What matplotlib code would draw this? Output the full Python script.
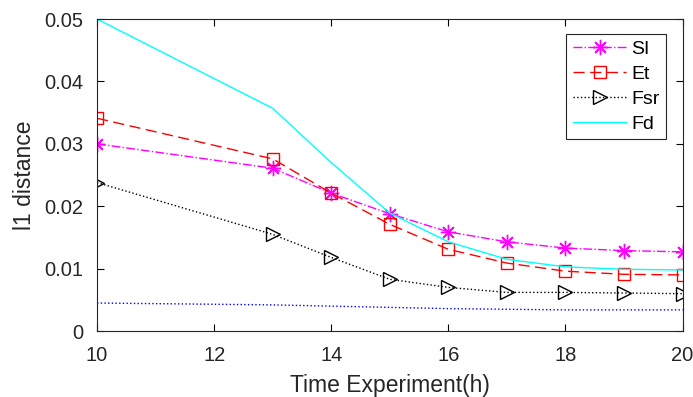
import matplotlib
matplotlib.use("Agg")
import matplotlib.pyplot as plt

# data
hours = [10, 13, 14, 15, 16, 17, 18, 19, 20]
si = [0.0300, 0.0261, 0.0221, 0.0188, 0.0159, 0.0143, 0.0133, 0.0129, 0.0127]
et = [0.0341, 0.0276, 0.0221, 0.0171, 0.0131, 0.0109, 0.0096, 0.0091, 0.0090]
fsr = [0.0238, 0.0155, 0.0118, 0.0083, 0.0070, 0.0062, 0.0062, 0.0061, 0.0060]
fd = [0.0500, 0.0357, 0.0270, 0.0189, 0.0143, 0.0115, 0.0103, 0.0099, 0.0098]
base = [0.0045, 0.0042, 0.0040, 0.0038, 0.0036, 0.0035, 0.0034, 0.0034, 0.0034]

xticks = [10, 12, 14, 16, 18, 20]
yticks = [0, 0.01, 0.02, 0.03, 0.04, 0.05]
ytick_labels = ["0", "0.01", "0.02", "0.03", "0.04", "0.05"]

plt.rcParams["font.family"] = ["Liberation Sans", "DejaVu Sans"]

fig = plt.figure(figsize=(6.93, 3.97), dpi=100)
ax = fig.add_axes([0.140, 0.166, 0.845, 0.786])

ax.plot(hours, si, color="#ff00ff", linestyle="-.", lw=1, marker=(8, 2, 0),
        markersize=11, label="SI")
ax.plot(hours, et, color="#ff0000", linestyle=(0, (8, 4)), lw=1, marker="s",
        markersize=8, markerfacecolor="none", label="Et")
ax.plot(hours, fsr, color="black", linestyle=":", lw=1, marker=">",
        markersize=10, markerfacecolor="none", label="Fsr")
ax.plot(hours, fd, color="#00ffff", linestyle="-", lw=1, label="Fd")
ax.plot(hours, base, color="#0000ff", linestyle=":", lw=1)

ax.set_xlim(10, 20)
ax.set_ylim(0, 0.05)
ax.set_xticks(xticks)
ax.set_yticks(yticks)
ax.set_yticklabels(ytick_labels)
ax.tick_params(direction="in", top=True, right=True, labelsize=14.5,
               labelcolor="#262626", length=5)
ax.tick_params(axis="x", pad=10.5)
ax.tick_params(axis="y", pad=10)
for s in ax.spines.values():
    s.set_color("#262626")

ax.set_xlabel("Time Experiment(h)", fontsize=16.5, color="#262626", labelpad=7)
ax.set_ylabel("l1 distance", fontsize=16.5, color="#262626", labelpad=6)

leg = ax.legend(loc="upper right", bbox_to_anchor=(0.972, 0.953), fontsize=14,
                fancybox=False, edgecolor="#262626", framealpha=1,
                handlelength=2.7, borderpad=0.35, labelspacing=0.37,
                handletextpad=0.27, borderaxespad=0)
leg.get_frame().set_linewidth(0.8)

fig.savefig("out.png", dpi=100)
